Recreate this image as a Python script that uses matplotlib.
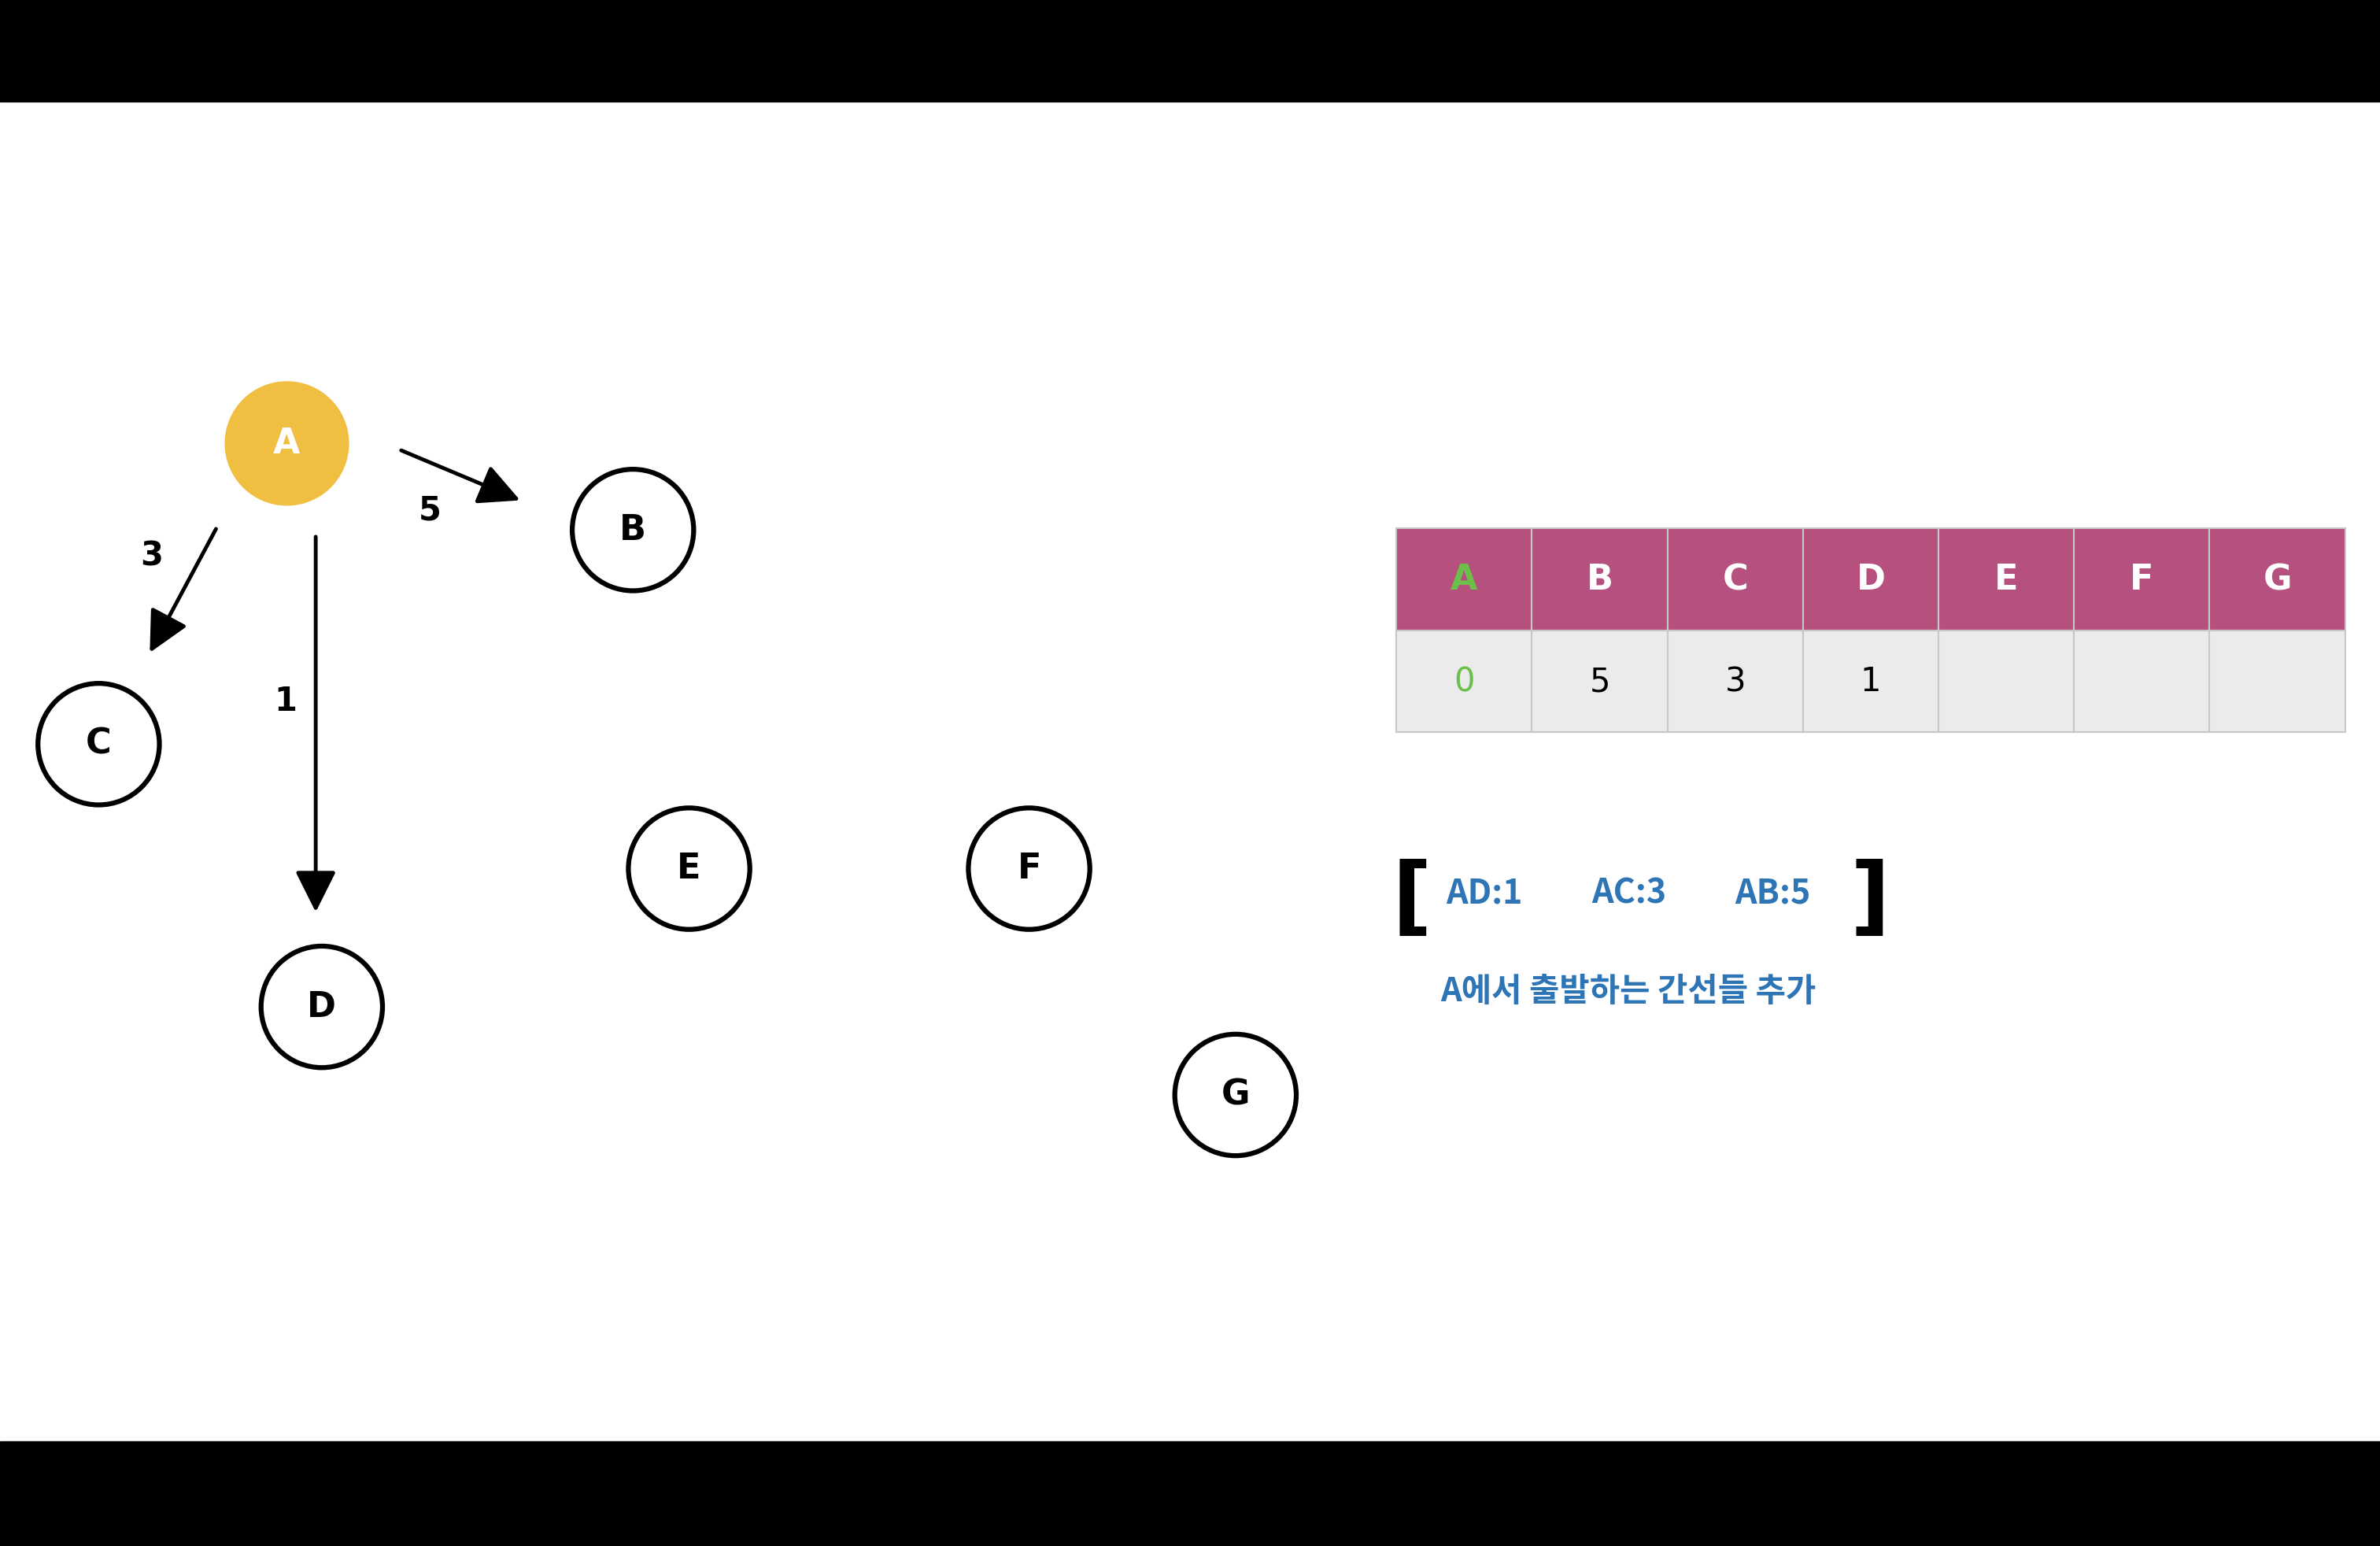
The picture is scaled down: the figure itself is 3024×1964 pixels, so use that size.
import matplotlib
matplotlib.use("Agg")
import matplotlib.pyplot as plt
from matplotlib.patches import Circle, Rectangle, FancyArrowPatch

plt.rcParams['font.family'] = ['Noto Sans CJK KR', 'DejaVu Sans']

nodes = ["A", "B", "C", "D", "E", "F", "G"]
edges = [("A", "B"), ("A", "C"), ("A", "D")]
weights = [5, 3, 1]
table_header = ["A", "B", "C", "D", "E", "F", "G"]
table_values = ["0", "5", "3", "1", "", "", ""]
queue_items = ["AD:1", "AC:3", "AB:5"]
caption = "A에서 출발하는 간선들 추가"

pos = {"A": (189, 292), "B": (417, 349), "C": (65, 490), "D": (212, 663),
       "E": (454, 572), "F": (678, 572), "G": (814, 721)}
arrow_pts = {("A", "B"): ((263, 296), (344, 330)),
             ("A", "C"): ((143, 347), (98, 431)),
             ("A", "D"): ((208, 352), (208, 602))}
label_pts = [(283, 336), (100, 366), (188, 462)]

fig = plt.figure(figsize=(30.24, 19.64), dpi=100)
ax = fig.add_axes([0, 0, 1, 1])
ax.set_xlim(0, 1568)
ax.set_ylim(1018, 0)
ax.axis('off')

ax.add_patch(Rectangle((0, 0), 1568, 67, color='black'))
ax.add_patch(Rectangle((0, 949), 1568, 69, color='black'))

R = 41
for n in nodes:
    x, y = pos[n]
    if n == "A":
        ax.add_patch(Circle((x, y), R, facecolor='#F0BE40', edgecolor='none'))
        ax.text(x, y, n, ha='center', va='center', fontsize=32, color='white', fontweight='bold', family='DejaVu Sans')
    else:
        ax.add_patch(Circle((x, y), R - 1, facecolor='white', edgecolor='black', linewidth=4.5))
        ax.text(x, y, n, ha='center', va='center', fontsize=32, color='black', fontweight='bold', family='DejaVu Sans')

for e, w, lp in zip(edges, weights, label_pts):
    s, t = arrow_pts[e]
    ax.add_patch(FancyArrowPatch(s, t, arrowstyle='-|>,head_length=1.6,head_width=0.8',
                                 mutation_scale=20, color='black', linewidth=3.5))
    ax.text(lp[0], lp[1], str(w), ha='center', va='center', fontsize=30, fontweight='bold', family='DejaVu Sans')

x0, cw = 920, (1545 - 920) / 7
for i, (h, v) in enumerate(zip(table_header, table_values)):
    x = x0 + i * cw
    ax.add_patch(Rectangle((x, 348), cw, 67, facecolor='#B5507F', edgecolor='#C8C8C8', linewidth=1.5))
    ax.add_patch(Rectangle((x, 415), cw, 67, facecolor='#EBEBEB', edgecolor='#C8C8C8', linewidth=1.5))
    col = '#6CC04A' if i == 0 else 'white'
    ax.text(x + cw / 2, 382, h, ha='center', va='center', fontsize=32, fontweight='bold', color=col, family='DejaVu Sans')
    ax.text(x + cw / 2, 449, v, ha='center', va='center', fontsize=30,
            color='#6CC04A' if i == 0 else 'black', family='DejaVu Sans')

ax.text(930, 593, "[", ha='center', va='center', fontsize=80, fontweight='bold', family='DejaVu Sans')
ax.text(1232, 593, "]", ha='center', va='center', fontsize=80, fontweight='bold', family='DejaVu Sans')
for q, x in zip(queue_items, [978, 1073, 1168]):
    ax.text(x, 588, q, ha='center', va='center', fontsize=31, fontweight='bold', color='#2E75B6')
ax.text(1073, 653, caption, ha='center', va='center', fontsize=30, fontweight='bold', color='#2E75B6')

fig.savefig("out.png", dpi=100)
